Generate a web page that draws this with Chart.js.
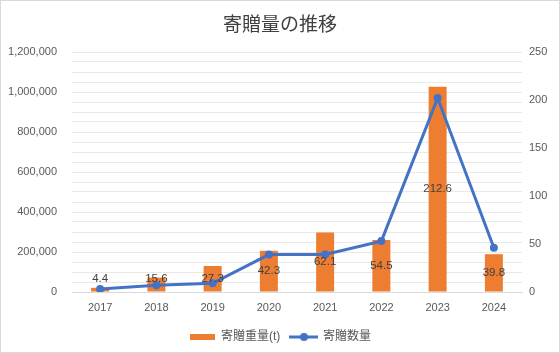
<!DOCTYPE html>
<html>
<head>
<meta charset="utf-8">
<script src="https://cdn.jsdelivr.net/npm/chart.js@4/dist/chart.umd.min.js"></script>
<style>
  html, body { margin: 0; padding: 0; background: #ffffff; }
  #wrap { width: 560px; height: 353px; position: relative; }
</style>
</head>
<body>
<div id="wrap"><canvas id="c" width="560" height="353"></canvas></div>
<script>
// ---- data ----
const categories = ['2017', '2018', '2019', '2020', '2021', '2022', '2023', '2024'];
const weightBars = [21000, 72000, 130000, 206000, 298000, 260000, 1026000, 189000];
const weightLabels = ['4.4', '15.6', '27.3', '42.3', '62.1', '54.5', '212.6', '39.8'];
const donationCount = [3, 7, 9, 39, 39, 53, 202, 46];
const seriesNames = ['寄贈重量(t)', '寄贈数量'];
const titleText = '寄贈量の推移';

const FONT = "'Liberation Sans', 'Noto Sans CJK JP', sans-serif";
const ORANGE = '#ED7D31';
const BLUE = '#4472C4';

function makeBarIcon() {
  const c = document.createElement('canvas');
  c.width = 25; c.height = 6;
  const g = c.getContext('2d');
  g.fillStyle = ORANGE; g.fillRect(0, 0, 25, 6);
  return c;
}
function makeLineIcon() {
  const c = document.createElement('canvas');
  c.width = 29; c.height = 10;
  const g = c.getContext('2d');
  g.strokeStyle = BLUE; g.lineWidth = 3;
  g.beginPath(); g.moveTo(0, 5); g.lineTo(29, 5); g.stroke();
  g.fillStyle = BLUE; g.beginPath(); g.arc(14.5, 5, 4, 0, Math.PI * 2); g.fill();
  return c;
}

const labelPlugin = {
  id: 'barCenterLabels',
  afterDatasetsDraw(chart) {
    const meta = chart.getDatasetMeta(0);
    const ctx = chart.ctx;
    ctx.save();
    ctx.font = '11.5px ' + FONT;
    ctx.fillStyle = '#404040';
    ctx.textAlign = 'center';
    ctx.textBaseline = 'middle';
    meta.data.forEach((el, i) => {
      const base = el.base;
      let y = (el.y + base) / 2;
      y = Math.min(y, base - 13);
      ctx.fillText(weightLabels[i], el.x, y);
    });
    ctx.restore();
  }
};

const framePlugin = {
  id: 'frame',
  beforeDraw(chart) {
    const ctx = chart.ctx;
    ctx.save();
    ctx.fillStyle = '#ffffff';
    ctx.fillRect(0, 0, chart.width, chart.height);
    ctx.restore();
  },
  afterDraw(chart) {
    const ctx = chart.ctx;
    ctx.save();
    ctx.strokeStyle = '#d9d9d9';
    ctx.lineWidth = 1;
    ctx.strokeRect(0.5, 0.5, chart.width - 1, chart.height - 1);
    ctx.restore();
  }
};

new Chart(document.getElementById('c'), {
  type: 'bar',
  data: {
    labels: categories,
    datasets: [
      {
        type: 'bar',
        label: seriesNames[0],
        data: weightBars,
        backgroundColor: ORANGE,
        borderWidth: 0,
        yAxisID: 'yL',
        barPercentage: 0.32,
        categoryPercentage: 1.0,
        order: 2
      },
      {
        type: 'line',
        label: seriesNames[1],
        data: donationCount,
        borderColor: BLUE,
        backgroundColor: BLUE,
        borderWidth: 3,
        pointRadius: 4,
        pointHoverRadius: 4,
        pointBackgroundColor: BLUE,
        pointBorderWidth: 0,
        tension: 0,
        yAxisID: 'yR',
        order: 1
      }
    ]
  },
  options: {
    responsive: false,
    animation: false,
    devicePixelRatio: 1,
    layout: { padding: 0 },
    font: { family: FONT },
    plugins: {
      title: {
        display: true,
        text: titleText,
        color: '#404040',
        font: { family: FONT, size: 19, weight: 'normal' },
        padding: { top: 14, bottom: 15.2 }
      },
      legend: {
        position: 'bottom',
        labels: {
          color: '#595959',
          font: { family: FONT, size: 12 },
          padding: 4,
          usePointStyle: true,
          pointStyleWidth: 26,
          generateLabels() {
            return [
              { text: seriesNames[0] + '  ', pointStyle: makeBarIcon(), fillStyle: ORANGE, strokeStyle: ORANGE, lineWidth: 0, datasetIndex: 0, hidden: false, fontColor: '#595959' },
              { text: seriesNames[1], pointStyle: makeLineIcon(), fillStyle: BLUE, strokeStyle: BLUE, lineWidth: 0, datasetIndex: 1, hidden: false, fontColor: '#595959' }
            ];
          }
        }
      },
      tooltip: { enabled: false }
    },
    scales: {
      x: {
        grid: { display: false, drawTicks: false },
        border: { display: true, color: '#d9d9d9', width: 1 },
        ticks: { color: '#595959', font: { family: FONT, size: 11 }, padding: 9, maxRotation: 0 },
        afterFit(s) { s.height = 35; }
      },
      yL: {
        position: 'left',
        min: 0,
        max: 1200000,
        grid: {
          drawTicks: false,
          color: (ctx) => (ctx.tick && ctx.tick.value === 0) ? '#d9d9d9' : '#e9e9e9',
          lineWidth: 1
        },
        border: { display: false },
        ticks: {
          stepSize: 50000,
          autoSkip: false,
          color: '#595959',
          font: { family: FONT, size: 11 },
          padding: 15,
          callback: (v) => (v % 200000 === 0) ? Number(v).toLocaleString('en-US') : ''
        },
        afterFit(s) { s.width = 72; }
      },
      yR: {
        position: 'right',
        min: 0,
        max: 250,
        grid: { display: false, drawTicks: false },
        border: { display: false },
        ticks: {
          stepSize: 50,
          color: '#595959',
          font: { family: FONT, size: 11 },
          padding: 7
        },
        afterFit(s) { s.width = 38; }
      }
    }
  },
  plugins: [framePlugin, labelPlugin]
});
</script>
</body>
</html>
